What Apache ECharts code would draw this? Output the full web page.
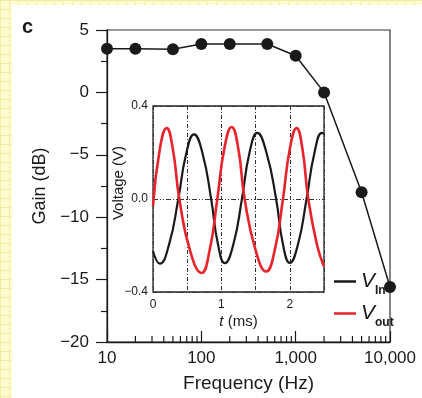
<!DOCTYPE html>
<html>
<head>
<meta charset="utf-8">
<script src="https://cdn.jsdelivr.net/npm/echarts@6/dist/echarts.min.js"></script>
<style>
  html, body { margin: 0; padding: 0; }
  body {
    width: 422px; height: 398px; overflow: hidden;
    background-color: #FFFDCF;
    background-image:
      linear-gradient(to right, #F3EBA8 1px, transparent 1px),
      linear-gradient(to bottom, #F3EBA8 1px, transparent 1px);
    background-size: 9px 9px;
  }
  #chart { position: absolute; left: 0; top: 0; width: 422px; height: 398px; }
</style>
</head>
<body>
<div id="chart"></div>
<script>
// Frequency response (main panel)
const freqHz = [10, 20, 50, 100, 200, 500, 1000, 2000, 5000, 10000];
const gainDb = [3.5, 3.5, 3.45, 3.88, 3.88, 3.88, 2.94, 0, -8, -15.6];
const freqMinorTicks = [20, 30, 40, 50, 60, 70, 80, 90,
                        200, 300, 400, 500, 600, 700, 800, 900,
                        2000, 3000, 4000, 5000, 6000, 7000, 8000, 9000];
const freqTickLabels = { 10: '10', 100: '100', 1000: '1,000', 10000: '10,000' };
const gainTickLabels = { 5: '5', 0: '0', '-5': '\u22125', '-10': '\u221210', '-15': '\u221215', '-20': '\u221220' };

// Inset waveforms: time (ms), voltage (V)
const vinTime = [0, 0.1, 0.235, 0.37, 0.485, 0.6, 0.725, 0.85, 0.95, 1.05, 1.175, 1.3, 1.41, 1.525, 1.66, 1.8, 1.9, 2.0, 2.12, 2.245, 2.36, 2.47, 2.5];
const vinVolt = [-0.225, -0.278, -0.195, 0, 0.195, 0.278, 0.195, 0, -0.195, -0.276, -0.195, 0, 0.198, 0.284, 0.198, 0, -0.195, -0.275, -0.195, 0, 0.198, 0.284, 0.28];
const voutTime = [0, 0.1, 0.2, 0.29, 0.385, 0.545, 0.71, 0.825, 0.94, 1.045, 1.15, 1.245, 1.34, 1.5, 1.655, 1.78, 1.9, 2.0, 2.1, 2.185, 2.27, 2.4, 2.5];
const voutVolt = [-0.03, 0.215, 0.305, 0.215, 0, -0.225, -0.318, -0.225, 0, 0.22, 0.31, 0.22, 0, -0.22, -0.312, -0.22, 0, 0.215, 0.305, 0.215, 0, -0.2, -0.29];
const insetTimeLabels = { 0: '0', 1: '1', 2: '2' };
const insetVoltLabels = { '0.4': '0.4', '0': '0.0', '-0.4': '\u22120.4' };

const FONT = "'Liberation Sans', Arial, Helvetica, sans-serif";
const INK = '#1a1a1a';
const RED = '#e8232b';

const chart = echarts.init(document.getElementById('chart'), null, { renderer: 'canvas' });

const zip = (a, b) => a.map((v, i) => [v, b[i]]);

const legendRich = {
  v: { fontSize: 21, fontStyle: 'italic', color: INK, fontFamily: FONT },
  s: { fontSize: 12, fontWeight: 'bold', color: INK, fontFamily: FONT, padding: [18, 0, 0, 0] }
};

const option = {
  animation: false,
  backgroundColor: 'transparent',
  textStyle: { fontFamily: FONT },
  graphic: [
    { type: 'rect', z: -10, shape: { x: 12, y: 5, width: 420, height: 400 }, style: { fill: '#ffffff' } },
    { type: 'text', left: 22, top: 17, style: { text: 'c', font: "bold 20px " + FONT, fill: INK } }
  ],
  grid: [
    { left: 107, top: 30, width: 283, height: 312, show: true, borderColor: '#333', borderWidth: 1.2, backgroundColor: 'transparent' },
    { left: 153, top: 106, width: 171, height: 186, show: true, borderColor: '#222', borderWidth: 1.3, backgroundColor: 'transparent' }
  ],
  xAxis: [
    {
      gridIndex: 0, type: 'log', logBase: 10, min: 10, max: 10000,
      name: 'Frequency (Hz)', nameLocation: 'middle', nameGap: 32,
      nameTextStyle: { fontSize: 19, color: INK, fontFamily: FONT },
      axisLine: { onZero: false, lineStyle: { color: INK, width: 1.3 } },
      axisTick: { show: true, inside: true, length: 11, lineStyle: { color: INK, width: 1.2 } },
      minorTick: { show: false },
      splitLine: { show: false },
      axisLabel: { fontSize: 17, color: INK, margin: 8, fontFamily: FONT,
        formatter: v => freqTickLabels[Math.round(v)] || '' }
    },
    {
      gridIndex: 1, type: 'value', min: 0, max: 2.5, interval: 0.5,
      name: '{i|t} (ms)', nameLocation: 'middle', nameGap: 22,
      nameTextStyle: { fontSize: 15, color: INK, fontFamily: FONT,
        rich: { i: { fontSize: 15, fontStyle: 'italic', color: INK, fontFamily: FONT } } },
      axisLine: { show: false, onZero: false },
      axisTick: { show: false },
      splitLine: { show: true, lineStyle: { color: '#333', width: 1, type: [4, 2, 1, 2] } },
      axisLabel: { fontSize: 12, color: INK, margin: 7, fontFamily: FONT,
        formatter: v => insetTimeLabels[v] !== undefined ? insetTimeLabels[v] : '' }
    }
  ],
  yAxis: [
    {
      gridIndex: 0, type: 'value', min: -20, max: 5, interval: 5,
      name: 'Gain (dB)', nameLocation: 'middle', nameGap: 58,
      nameTextStyle: { fontSize: 18, color: INK, fontFamily: FONT },
      axisLine: { show: true, onZero: false, lineStyle: { color: INK, width: 1.3 } },
      axisTick: { show: true, inside: false, length: 11, lineStyle: { color: INK, width: 1.2 } },
      minorTick: { show: true, splitNumber: 2, length: 6, lineStyle: { color: INK, width: 1.2 } },
      splitLine: { show: false },
      axisLabel: { fontSize: 17, color: INK, margin: 18, fontFamily: FONT,
        formatter: v => gainTickLabels[v] }
    },
    {
      gridIndex: 1, type: 'value', min: -0.4, max: 0.4, interval: 0.4,
      name: 'Voltage (V)', nameLocation: 'middle', nameGap: 27, nameMoveOverlap: false,
      nameTextStyle: { fontSize: 15, color: INK, fontFamily: FONT, padding: [0, 0, 0, 32] },
      axisLine: { show: false, onZero: false },
      axisTick: { show: false },
      splitLine: { show: true, lineStyle: { color: '#333', width: 1, type: [5, 2, 1, 2, 1, 2] } },
      axisLabel: { fontSize: 12, color: INK, margin: 5, fontFamily: FONT,
        formatter: v => insetVoltLabels[String(Math.round(v * 10) / 10)] }
    }
  ],
  legend: [
    {
      data: ['Vin'], left: 329, top: 266, orient: 'vertical',
      icon: 'rect', itemWidth: 22, itemHeight: 2.5, itemGap: 0,
      selectedMode: false,
      formatter: () => '{v|V}{s|In}',
      textStyle: { color: INK, rich: legendRich }
    },
    {
      data: ['Vout'], left: 329, top: 298, orient: 'vertical',
      icon: 'rect', itemWidth: 22, itemHeight: 2.5, itemGap: 0,
      selectedMode: false,
      formatter: () => '{v|V}{s|out}',
      textStyle: { color: INK, rich: legendRich }
    }
  ],
  series: [
    {
      type: 'line', xAxisIndex: 0, yAxisIndex: 0,
      data: zip(freqHz, gainDb),
      symbol: 'circle', symbolSize: 12, clip: false,
      lineStyle: { color: INK, width: 1.5 },
      itemStyle: { color: INK },
      z: 5
    },
    {
      // minor decade ticks on the frequency axis
      type: 'custom', xAxisIndex: 0, yAxisIndex: 0, silent: true, z: 4,
      data: freqMinorTicks.map(f => [f, -20]),
      encode: { x: 0, y: 1 },
      renderItem: (params, api) => {
        const p = api.coord([api.value(0), api.value(1)]);
        return { type: 'line', shape: { x1: p[0], y1: p[1], x2: p[0], y2: p[1] - 6 },
                 style: { stroke: INK, lineWidth: 1.2 } };
      }
    },
    {
      name: 'Vin', type: 'line', xAxisIndex: 1, yAxisIndex: 1,
      data: zip(vinTime, vinVolt), smooth: 0.5, symbol: 'none',
      lineStyle: { color: INK, width: 2.2 }, itemStyle: { color: INK }, z: 6
    },
    {
      name: 'Vout', type: 'line', xAxisIndex: 1, yAxisIndex: 1,
      data: zip(voutTime, voutVolt), smooth: 0.5, symbol: 'none',
      lineStyle: { color: RED, width: 2.6 }, itemStyle: { color: RED }, z: 6
    }
  ]
};

chart.setOption(option);
</script>
</body>
</html>
